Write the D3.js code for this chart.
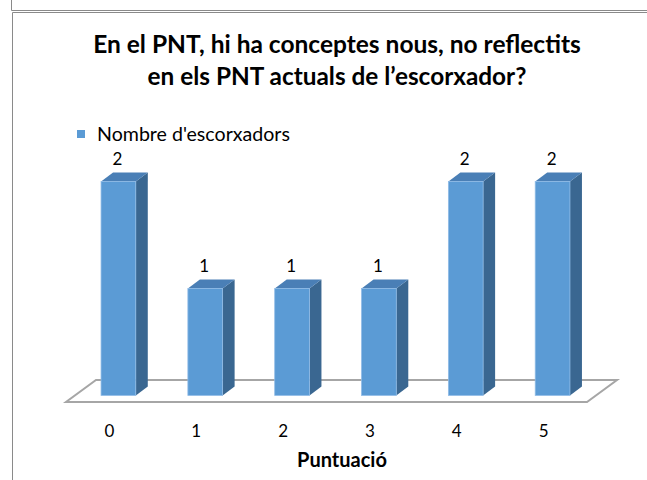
<!DOCTYPE html>
<html>
<head>
<meta charset="utf-8">
<script src="https://cdn.jsdelivr.net/npm/d3@7"></script>
<style>
  html, body { margin: 0; padding: 0; background: #fff; }
  svg { display: block; }
</style>
</head>
<body>
<div id="chart"></div>
<script>
// chart data
const categories = ["0", "1", "2", "3", "4", "5"];
const values = [2, 1, 1, 1, 2, 2];
const seriesName = "Nombre d'escorxadors";
const titleLines = ["En el PNT, hi ha conceptes nous, no reflectits", "en els PNT actuals de l\u2019escorxador?"];
const axisTitle = "Puntuació";

const W = 647, H = 480;
const font = "Lato, 'Open Sans', sans-serif";

const svg = d3.select("#chart").append("svg")
    .attr("width", W)
    .attr("height", H);

// frame lines (window / chart area)
svg.append("path")
    .attr("d", "M11.5,0 V10.5 H647")
    .style("fill", "none").style("stroke", "#8a8a8a").style("stroke-width", 1);
svg.append("path")
    .attr("d", "M12.5,480 V12.5 H647")
    .style("fill", "none").style("stroke", "#8a8a8a").style("stroke-width", 1);

// fit a text element to a target width by scaling its font size
function fitWidth(sel, target) {
    var fs = parseFloat(sel.style("font-size"));
    var w = sel.node().getComputedTextLength();
    sel.style("font-size", (fs * target / w) + "px");
}

/*********************** Title *********************/
var titleWidths = [488, 379];
titleLines.forEach(function (t, i) {
    var tt = svg.append("text")
        .attr("x", 337)
        .attr("y", 53 + i * 32)
        .attr("text-anchor", "middle")
        .style("font-family", font)
        .style("font-weight", "bold")
        .style("font-size", "20px")
        .style("fill", "#000")
        .text(t);
    fitWidth(tt, titleWidths[i]);
});

/*********************** Legend *********************/
svg.append("rect")
    .attr("x", 77).attr("y", 130)
    .attr("width", 8).attr("height", 8)
    .style("fill", "#5b9bd5");
var lg = svg.append("text")
    .attr("x", 97).attr("y", 141)
    .style("font-family", font)
    .style("font-size", "16px")
    .style("fill", "#000")
    .text(seriesName);
fitWidth(lg, 193);

/*********************** Plot *********************/
var floorFront = 402;
var depth = { dx: 30, dy: -22 };

var x = d3.scaleBand()
    .domain(categories)
    .range([66, 587])
    .padding(0);
var bw = x.bandwidth();

var h = d3.scaleLinear()
    .domain([0, 2.5])
    .range([0, 267.5]);

// floor
var floor = [
    [x.range()[0], floorFront],
    [x.range()[1], floorFront],
    [x.range()[1] + depth.dx, floorFront + depth.dy],
    [x.range()[0] + depth.dx, floorFront + depth.dy]
];
svg.append("path")
    .attr("d", d3.line()(floor) + "Z")
    .style("fill", "#fff")
    .style("stroke", "#a6a6a6")
    .style("stroke-width", 2);

// bars occupy 0.4 of the band and 0.3..0.7 of the depth
var barW = bw * 0.4;
var d0 = 0.3, d1 = 0.7;
var sdx = (d1 - d0) * depth.dx, sdy = (d1 - d0) * depth.dy;

var bars = svg.append("g").selectAll("g")
    .data(categories.map(function (c, i) { return { c: c, v: values[i] }; }))
    .join("g");

function geom(d) {
    var x0 = x(d.c) + (bw - barW) / 2 + d0 * depth.dx;
    var yb = floorFront + d0 * depth.dy;
    var yt = yb - h(d.v);
    return { x0: x0, x1: x0 + barW, yb: yb, yt: yt };
}

// side
bars.append("path")
    .attr("d", function (d) {
        var g = geom(d);
        return d3.line()([[g.x1, g.yt], [g.x1 + sdx, g.yt + sdy], [g.x1 + sdx, g.yb + sdy], [g.x1, g.yb]]) + "Z";
    })
    .style("fill", "#3a6791");
// top
bars.append("path")
    .attr("d", function (d) {
        var g = geom(d);
        return d3.line()([[g.x0, g.yt], [g.x0 + sdx, g.yt + sdy], [g.x1 + sdx, g.yt + sdy], [g.x1, g.yt]]) + "Z";
    })
    .style("fill", "#4a7fb6");
// front
bars.append("rect")
    .attr("x", function (d) { return geom(d).x0; })
    .attr("y", function (d) { return geom(d).yt; })
    .attr("width", barW)
    .attr("height", function (d) { return h(d.v); })
    .style("fill", "#5b9bd5")
    .style("stroke", "#8fbbe6")
    .style("stroke-width", 0.8);

// value labels
bars.append("text")
    .attr("x", function (d) { var g = geom(d); return (g.x0 + g.x1) / 2 - 1; })
    .attr("y", function (d) { return geom(d).yt - 16; })
    .attr("text-anchor", "middle")
    .style("font-family", font)
    .style("font-size", "17px")
    .style("fill", "#000")
    .text(function (d) { return d.v; });

// category axis
var xAxis = d3.axisBottom(x).tickSize(0).tickSizeOuter(0);
var ax = svg.append("g")
    .attr("class", "x axis")
    .attr("transform", "translate(0," + floorFront + ")")
    .call(xAxis);
ax.select(".domain").remove();
ax.selectAll("text")
    .attr("y", 35)
    .attr("dy", null)
    .style("font-family", font)
    .style("font-size", "17px")
    .style("fill", "#000");

var at = svg.append("text")
    .attr("x", 342).attr("y", 467)
    .attr("text-anchor", "middle")
    .style("font-family", font)
    .style("font-weight", "bold")
    .style("font-size", "16px")
    .style("fill", "#000")
    .text(axisTitle);
fitWidth(at, 90);
</script>
</body>
</html>
